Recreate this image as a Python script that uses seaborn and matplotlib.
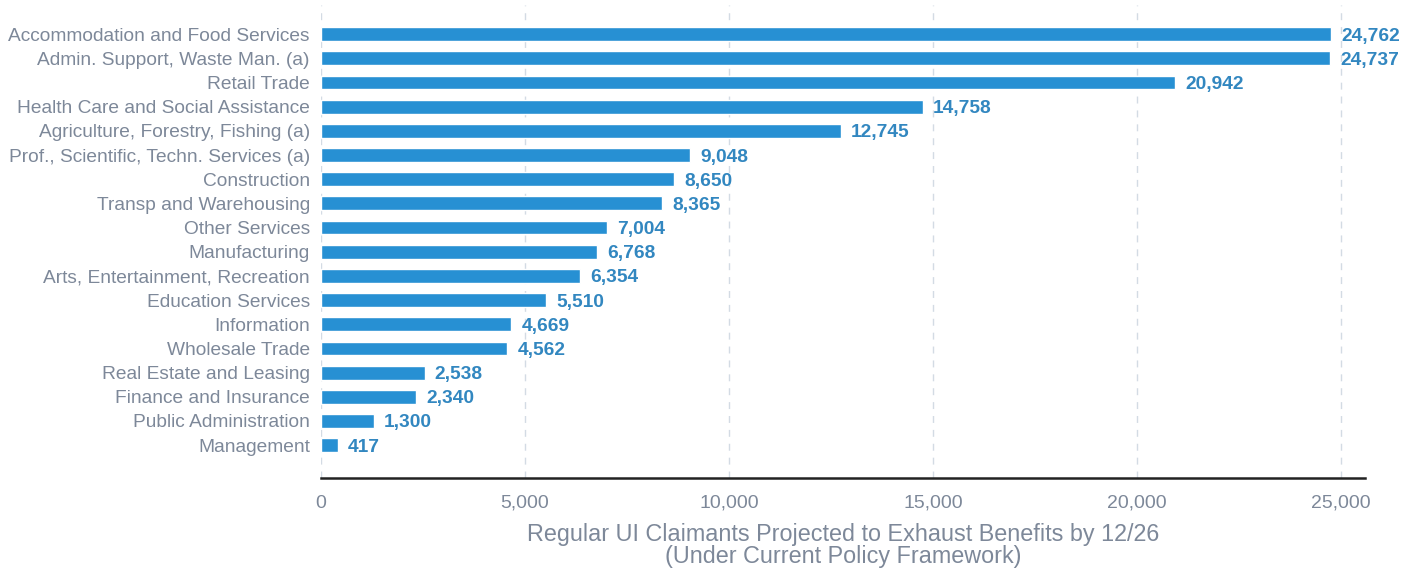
import matplotlib
matplotlib.use("Agg")
import matplotlib.pyplot as plt
import seaborn as sns
import pandas as pd

categories = [
    "Accommodation and Food Services",
    "Admin. Support, Waste Man. (a)",
    "Retail Trade",
    "Health Care and Social Assistance",
    "Agriculture, Forestry, Fishing (a)",
    "Prof., Scientific, Techn. Services (a)",
    "Construction",
    "Transp and Warehousing",
    "Other Services",
    "Manufacturing",
    "Arts, Entertainment, Recreation",
    "Education Services",
    "Information",
    "Wholesale Trade",
    "Real Estate and Leasing",
    "Finance and Insurance",
    "Public Administration",
    "Management",
]
values = [24762, 24737, 20942, 14758, 12745, 9048, 8650, 8365, 7004, 6768,
          6354, 5510, 4669, 4562, 2538, 2340, 1300, 417]
xticks = [0, 5000, 10000, 15000, 20000, 25000]
xlabel = "Regular UI Claimants Projected to Exhaust Benefits by 12/26\n(Under Current Policy Framework)"

sns.set_theme(style="white")
plt.rcParams["font.family"] = ["Liberation Sans", "DejaVu Sans"]

df = pd.DataFrame({"cat": categories, "val": values})

fig = plt.figure(figsize=(14.19, 5.72), dpi=100)
ax = fig.add_axes([321 / 1419, 0.1643, (1365 - 321) / 1419, 0.991 - 0.1643])

bar_color = "#2790d3"
label_gray = "#7d8899"
sns.barplot(data=df, y="cat", x="val", orient="h", color=bar_color,
            width=0.57, ax=ax, saturation=1, zorder=3)

for i, v in enumerate(values):
    ax.text(v + 250, i, f"{v:,}", va="center_baseline", ha="left", fontsize=13.8,
            fontweight="bold", color="#3287c0", zorder=4)

ax.set_xlim(0, 25595)
ax.set_ylim(18.36, -1.2)
ax.set_xticks(xticks)
ax.set_xticklabels([f"{t:,}" for t in xticks])
ax.grid(axis="x", color="#d3dbe4", linestyle=(0, (5, 5)), linewidth=1, zorder=0)
ax.grid(axis="y", visible=False)
for s in ["top", "right", "left"]:
    ax.spines[s].set_visible(False)
ax.spines["bottom"].set_color("#222222")
ax.spines["bottom"].set_linewidth(1.8)
ax.spines["bottom"].set_zorder(5)

ax.tick_params(axis="y", length=0, labelsize=13.8, labelcolor=label_gray, pad=8)
ax.tick_params(axis="x", length=6, color="#d3dbe4", labelsize=14,
               labelcolor=label_gray, pad=6)
ax.set_ylabel("")
ax.set_xlabel(xlabel, fontsize=16.8, color=label_gray, labelpad=8, linespacing=0.95)

fig.savefig("out.png", dpi=100)
